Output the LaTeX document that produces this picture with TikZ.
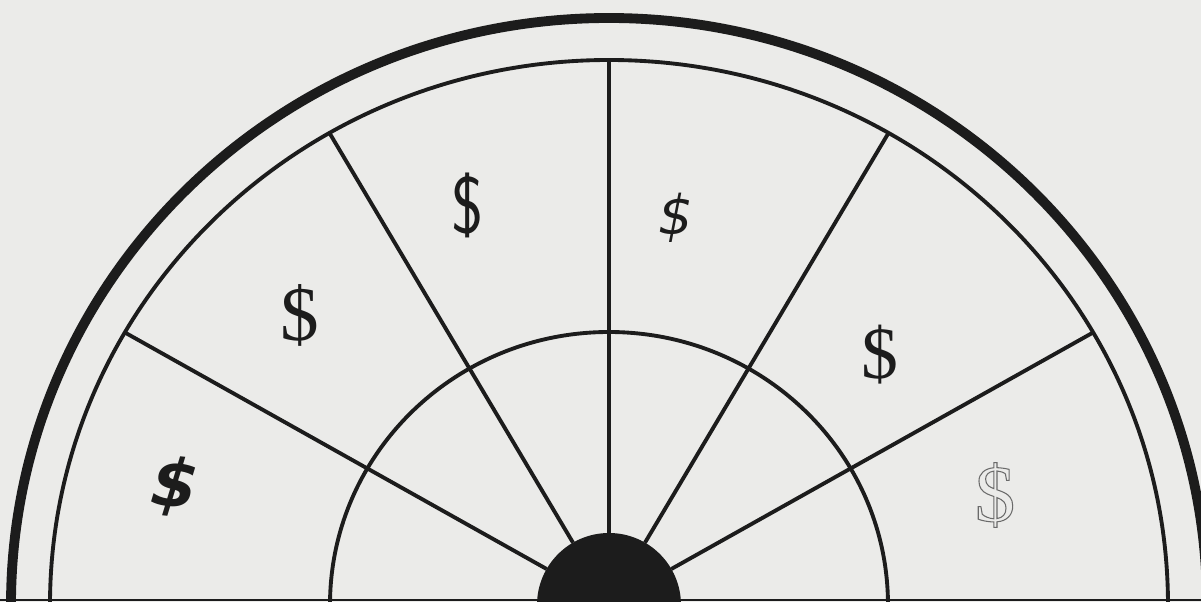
\documentclass[tikz,border=0pt]{standalone}
\usepackage{fontspec}
\newfontfamily\boldsans{DejaVu Sans}
\newfontfamily\timesish{Liberation Serif}
\usetikzlibrary{calc}
\definecolor{wheelInk}{HTML}{1c1c1c}
\definecolor{wheelPaper}{HTML}{EBEBE9}
\definecolor{wheelGrey}{HTML}{6a6a6a}
\tikzset{
  rim/.style={draw=wheelInk, line width=5.6pt},
  ring/.style={draw=wheelInk, line width=2.2pt},
  spoke/.style={draw=wheelInk, line width=2.2pt},
  prize/.style={text=wheelInk, inner sep=0pt},
}
\newcommand{\fsz}[1]{\fontsize{#1}{#1}\selectfont}

\begin{document}
\begin{tikzpicture}[x=0.02cm,y=0.02cm]
  \fill[wheelPaper] (-609,3) rectangle (592,605);
  \useasboundingbox (-609,3) rectangle (592,605);
  \begin{scope}
    \clip (-609,3) rectangle (592,605);
    % rim and rings
    \draw[rim] (-598,0) arc[start angle=180,end angle=0,x radius=598,y radius=587];
    \draw[ring] (-559,0) arc[start angle=180,end angle=0,x radius=559,y radius=545];
    \draw[ring] (-279,0) arc[start angle=180,end angle=0,x radius=279,y radius=273];
    % spokes
    \foreach \a in {30,60,90,120,150}{
      \coordinate (in\a) at (\a:72);
      \coordinate (out\a) at ({559*cos(\a)},{545*sin(\a)});
      \draw[spoke] (in\a) -- (out\a);}
    % hub
    \fill[wheelInk] (0,0) circle[radius=72];
  \end{scope}
  \coordinate (baseL) at (-609,5);
  \coordinate (baseR) at (592,5);
  \draw[draw=wheelInk, line width=1.3pt] (baseL) -- (baseR);
  % dollar prizes
  \node[prize,font=\boldsans\bfseries\itshape\fsz{38},rotate=-6] (d1) at (-434,118) {\$};
  \node[prize,font=\timesish\fsz{44}] (d2) at (-309,290) {\$};
  \node[prize,font=\sffamily\fsz{46},xscale=0.85] (d3) at (-141,400) {\$};
  \node[prize,font=\boldsans\itshape\fsz{31}] (d4) at (67,387) {\$};
  \node[prize,font=\timesish\fsz{42}] (d5) at (271,250) {\$};
  \node[prize,font=\timesish\fsz{46},text=wheelGrey] (d6) at (386,110)
    {\special{pdf:literal direct 1 Tr 0.6 w}\$\special{pdf:literal direct 0 Tr}};
\end{tikzpicture}
\end{document}
